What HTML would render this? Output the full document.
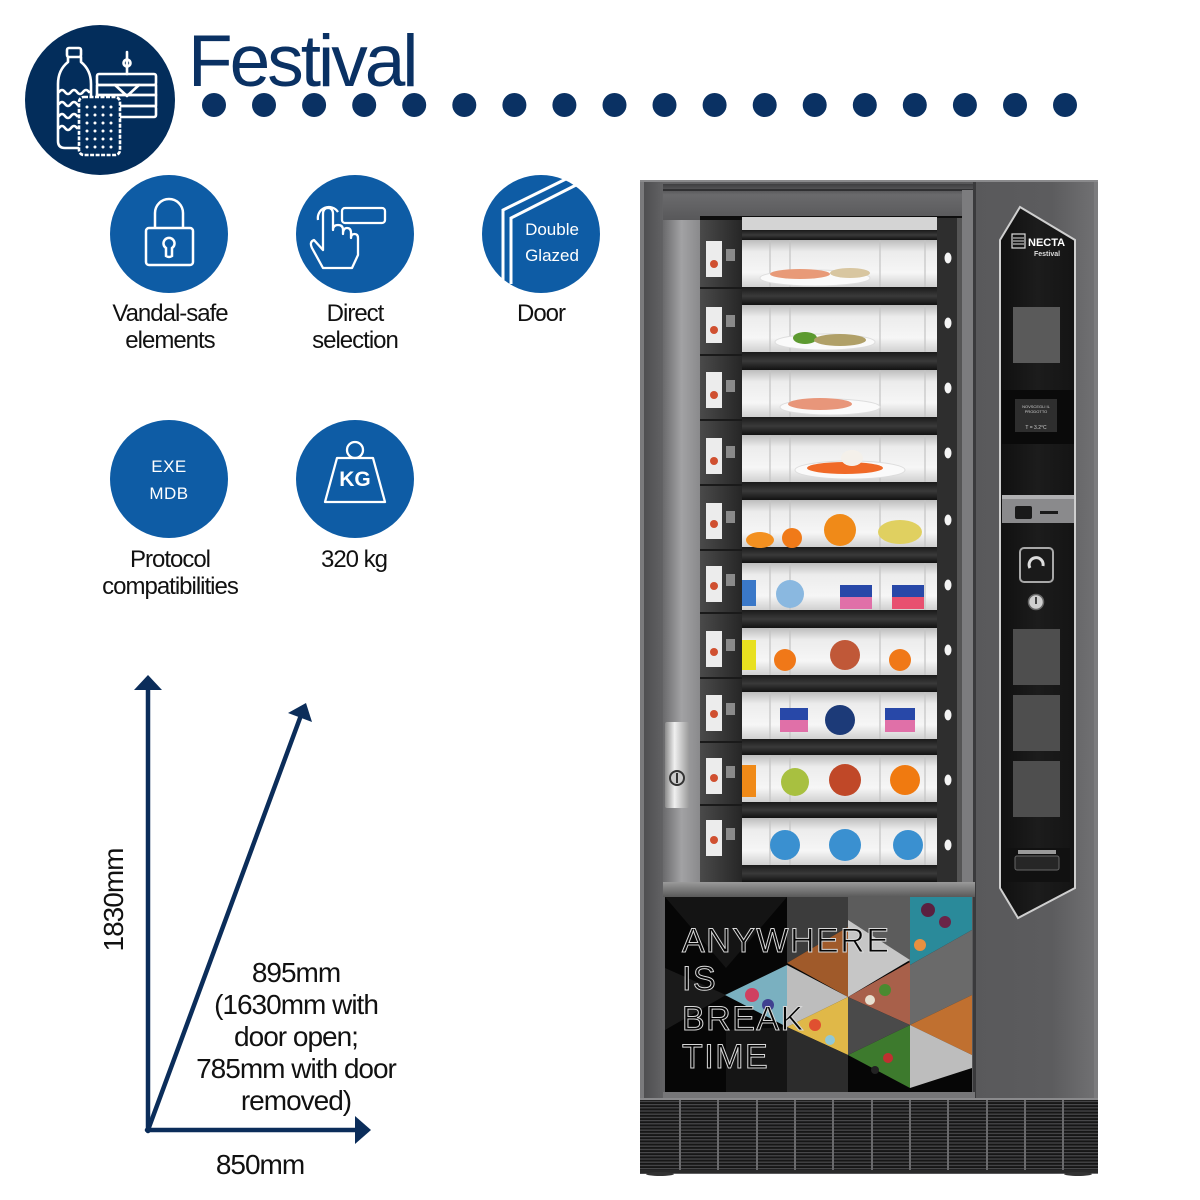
<!DOCTYPE html>
<html><head><meta charset="utf-8">
<style>
html,body{margin:0;padding:0;background:#fff;}
svg{display:block}
text{font-family:"Liberation Sans",Arial,sans-serif;}
</style></head><body>
<svg width="1200" height="1200" viewBox="0 0 1200 1200" xmlns="http://www.w3.org/2000/svg">
<defs>
  <linearGradient id="metal" x1="0" y1="0" x2="1" y2="0">
    <stop offset="0" stop-color="#4a4a4c"/><stop offset="0.05" stop-color="#626264"/>
    <stop offset="0.5" stop-color="#555557"/><stop offset="0.9" stop-color="#5c5c5e"/>
    <stop offset="1" stop-color="#727274"/>
  </linearGradient>
  <linearGradient id="topbar" x1="0" y1="0" x2="0" y2="1">
    <stop offset="0" stop-color="#3e3e40"/><stop offset="0.3" stop-color="#6a6a6c"/>
    <stop offset="1" stop-color="#58585a"/>
  </linearGradient>
  <linearGradient id="lstrip" x1="0" y1="0" x2="1" y2="0">
    <stop offset="0" stop-color="#6a6a6c"/><stop offset="0.5" stop-color="#a2a2a4"/>
    <stop offset="1" stop-color="#8a8a8c"/>
  </linearGradient>
  <linearGradient id="drawer" x1="0" y1="0" x2="0" y2="1">
    <stop offset="0" stop-color="#bdbdbd"/><stop offset="0.25" stop-color="#ececec"/>
    <stop offset="0.7" stop-color="#f6f6f6"/><stop offset="1" stop-color="#d0d0d0"/>
  </linearGradient>
  <linearGradient id="band" x1="0" y1="0" x2="0" y2="1">
    <stop offset="0" stop-color="#1a1a1a"/><stop offset="0.5" stop-color="#3a3a3a"/>
    <stop offset="1" stop-color="#121212"/>
  </linearGradient>
  <linearGradient id="silver" x1="0" y1="0" x2="1" y2="0">
    <stop offset="0" stop-color="#8a8a8a"/><stop offset="0.4" stop-color="#f0f0f0"/>
    <stop offset="1" stop-color="#9a9a9a"/>
  </linearGradient>
  <linearGradient id="strip" x1="0" y1="0" x2="1" y2="0">
    <stop offset="0" stop-color="#101010"/><stop offset="0.5" stop-color="#1c1c1c"/>
    <stop offset="1" stop-color="#141414"/>
  </linearGradient>
  <linearGradient id="plate" x1="0" y1="0" x2="0" y2="1">
    <stop offset="0" stop-color="#9a9a9a"/><stop offset="1" stop-color="#5a5a5a"/>
  </linearGradient>
  <linearGradient id="glass" x1="0" y1="0" x2="1" y2="0">
    <stop offset="0" stop-color="#4a4a4a"/><stop offset="1" stop-color="#262626"/>
  </linearGradient>
  <pattern id="grille" x="0" y="0" width="6" height="3.2" patternUnits="userSpaceOnUse">
    <rect width="6" height="3.2" fill="#161616"/>
    <rect y="0" width="6" height="1.2" fill="#4a4a4c"/>
  </pattern>
</defs>

<!-- ===== Header ===== -->
<circle cx="100" cy="100" r="75" fill="#032d5b"/>
<g fill="none" stroke="#fff" stroke-width="2.6" stroke-linejoin="round" stroke-linecap="round">
  <!-- bottle -->
  <rect x="67" y="48" width="14" height="9" rx="2"/>
  <path d="M68,57 L68,62 Q58,70 58,84 L58,141 Q58,148 65,148 L84,148 Q91,148 91,141 L91,84 Q91,70 81,62 L81,57"/>
  <path d="M59,92 q3,-4 6,0 t6,0 t6,0 t6,0 t6,0"/>
  <path d="M59,104 q3,-4 6,0 t6,0 t6,0 t6,0 t6,0"/>
  <path d="M59,116 q3,-4 6,0 t6,0 t6,0"/>
  <path d="M59,128 q3,-4 6,0 t6,0 t6,0"/>
  <!-- sandwich -->
  <line x1="127" y1="52" x2="127" y2="74"/>
  <circle cx="127" cy="63" r="3.5"/>
  <rect x="97" y="74" width="59" height="11" rx="2"/>
  <rect x="97" y="85" width="59" height="10"/>
  <rect x="97" y="95" width="59" height="11"/>
  <rect x="97" y="106" width="59" height="11" rx="2"/>
  <path d="M115,85 L127,96 L139,85"/>
</g>
<!-- cracker -->
<rect x="79" y="97" width="41" height="58" rx="5" fill="#032d5b" stroke="#fff" stroke-width="2.6" stroke-dasharray="4 1.5"/>
<g fill="#fff">
  <circle cx="87" cy="107" r="1.5"/><circle cx="95" cy="107" r="1.5"/><circle cx="103" cy="107" r="1.5"/><circle cx="111" cy="107" r="1.5"/>
  <circle cx="87" cy="115" r="1.5"/><circle cx="95" cy="115" r="1.5"/><circle cx="103" cy="115" r="1.5"/><circle cx="111" cy="115" r="1.5"/>
  <circle cx="87" cy="123" r="1.5"/><circle cx="95" cy="123" r="1.5"/><circle cx="103" cy="123" r="1.5"/><circle cx="111" cy="123" r="1.5"/>
  <circle cx="87" cy="131" r="1.5"/><circle cx="95" cy="131" r="1.5"/><circle cx="103" cy="131" r="1.5"/><circle cx="111" cy="131" r="1.5"/>
  <circle cx="87" cy="139" r="1.5"/><circle cx="95" cy="139" r="1.5"/><circle cx="103" cy="139" r="1.5"/><circle cx="111" cy="139" r="1.5"/>
  <circle cx="87" cy="147" r="1.5"/><circle cx="95" cy="147" r="1.5"/><circle cx="103" cy="147" r="1.5"/><circle cx="111" cy="147" r="1.5"/>
</g>

<text x="188" y="86" font-size="73" fill="#0a3163" letter-spacing="-3">Festival</text>

<g fill="#0a3163">
  <circle cx="214" cy="105" r="12"/><circle cx="264" cy="105" r="12"/><circle cx="314.1" cy="105" r="12"/>
  <circle cx="364.2" cy="105" r="12"/><circle cx="414.2" cy="105" r="12"/><circle cx="464.3" cy="105" r="12"/>
  <circle cx="514.4" cy="105" r="12"/><circle cx="564.4" cy="105" r="12"/><circle cx="614.5" cy="105" r="12"/>
  <circle cx="664.5" cy="105" r="12"/><circle cx="714.6" cy="105" r="12"/><circle cx="764.7" cy="105" r="12"/>
  <circle cx="814.7" cy="105" r="12"/><circle cx="864.8" cy="105" r="12"/><circle cx="914.8" cy="105" r="12"/>
  <circle cx="964.9" cy="105" r="12"/><circle cx="1015" cy="105" r="12"/><circle cx="1065" cy="105" r="12"/>
</g>

<!-- ===== Feature icons ===== -->
<circle cx="169" cy="234" r="59" fill="#0e5ca5"/>
<g fill="none" stroke="#fff" stroke-width="2.5">
  <path d="M155,228 V213 A14,14 0 0 1 183,213 V228"/>
  <rect x="146" y="228" width="47" height="37" rx="3"/>
  <path d="M166,248 A5.5,5.5 0 1 1 172,248 L172,256 Q169,258 166,256 Z"/>
</g>

<circle cx="355" cy="234" r="59" fill="#0e5ca5"/>
<g fill="none" stroke="#fff" stroke-width="2.3" stroke-linejoin="round">
  <rect x="342" y="208" width="43" height="15" rx="3"/>
  <path d="M318,220 A11,11 0 0 1 338,212"/>
  <path d="M323,268 L312,248 Q309,242 314,240 L323,250 L323,214 Q323,208 328,208 Q333,208 333,214 L333,230 Q333,225 338,225 Q343,225 343,230 L343,234 Q343,228 347,228 Q351,228 351,233 L351,238 Q351,234 354.5,234 Q358,234 358,238 L358,255 L352,268 Z"/>
</g>

<circle cx="541" cy="234" r="59" fill="#0e5ca5"/>
<g fill="none" stroke="#fff" stroke-width="3">
  <polyline points="503,280 503,210 572,176"/>
  <polyline points="511,284 511,218 580,183"/>
</g>
<text x="552" y="235" font-size="17" fill="#fff" text-anchor="middle">Double</text>
<text x="552" y="261" font-size="17" fill="#fff" text-anchor="middle">Glazed</text>

<g font-size="24" fill="#111" text-anchor="middle" letter-spacing="-1">
  <text x="170" y="321">Vandal-safe</text>
  <text x="170" y="348">elements</text>
  <text x="355" y="321">Direct</text>
  <text x="355" y="348">selection</text>
  <text x="541" y="321">Door</text>
  <text x="170" y="567">Protocol</text>
  <text x="170" y="594">compatibilities</text>
  <text x="354" y="567">320 kg</text>
</g>

<circle cx="169" cy="479" r="59" fill="#0e5ca5"/>
<text x="169" y="472" font-size="17" fill="#fff" text-anchor="middle" letter-spacing="0.5">EXE</text>
<text x="169" y="499" font-size="17" fill="#fff" text-anchor="middle" letter-spacing="0.5">MDB</text>

<circle cx="355" cy="479" r="59" fill="#0e5ca5"/>
<g fill="none" stroke="#fff" stroke-width="2.3" stroke-linejoin="round">
  <circle cx="355" cy="450" r="8"/>
  <path d="M337,458 L373,458 L385,502 L325,502 Z"/>
</g>
<text x="355" y="486" font-size="21" font-weight="bold" fill="#fff" text-anchor="middle">KG</text>

<!-- ===== Dimension arrows ===== -->
<g stroke="#0b2d5a" stroke-width="4.5" fill="none" stroke-linecap="round">
  <line x1="148" y1="1131" x2="148" y2="688"/>
  <line x1="147" y1="1130" x2="357" y2="1130"/>
  <line x1="148" y1="1130" x2="300" y2="718"/>
</g>
<g fill="#0b2d5a">
  <polygon points="148,675 134,690 162,690"/>
  <polygon points="371,1130 355,1116 355,1144"/>
  <polygon points="306,703 312,722 288,713"/>
</g>
<g font-size="28" fill="#111" text-anchor="middle" letter-spacing="-1">
  <text transform="translate(123,900) rotate(-90)">1830mm</text>
  <text x="296" y="982">895mm</text>
  <text x="296" y="1014">(1630mm with</text>
  <text x="296" y="1046">door open;</text>
  <text x="296" y="1078">785mm with door</text>
  <text x="296" y="1110">removed)</text>
  <text x="260" y="1174">850mm</text>
</g>

<!-- ===== Vending machine ===== -->
<rect x="640" y="180" width="458" height="994" fill="url(#metal)"/>
<rect x="640" y="180" width="458" height="2" fill="#8a8a8c"/>
<rect x="640" y="182" width="4" height="918" fill="#7a7a7c"/>
<rect x="1094" y="182" width="4" height="918" fill="#7c7c7e"/>

<!-- door top bar -->
<rect x="663" y="184" width="312" height="36" fill="url(#topbar)"/>
<rect x="663" y="189" width="312" height="2" fill="#303032"/>
<!-- door left strip -->
<rect x="663" y="220" width="37" height="664" fill="url(#lstrip)"/>
<!-- inner dark -->
<rect x="700" y="216" width="262" height="668" fill="#0e0e0e"/>
<!-- right door edge -->
<rect x="962" y="190" width="13" height="694" fill="#7c7c7e"/>
<rect x="973" y="182" width="3" height="918" fill="#3a3a3c"/>

<!-- top partial shelf -->
<rect x="742" y="217" width="195" height="13" fill="#d4d4d4"/>
<rect x="742" y="230" width="195" height="10" fill="url(#band)"/>

<!-- left glass column -->
<rect x="700" y="220" width="42" height="662" fill="url(#glass)"/>
<!-- right glass column -->
<rect x="937" y="218" width="25" height="664" fill="#2e2e2e"/>
<rect x="957" y="218" width="5" height="664" fill="#555"/>

<!-- drawers -->
<g id="drawers">
  <rect x="742" y="240" width="195" height="47" fill="url(#drawer)"/>
  <rect x="742" y="287" width="195" height="18" fill="url(#band)"/>
  <rect x="742" y="305" width="195" height="47" fill="url(#drawer)"/>
  <rect x="742" y="352" width="195" height="18" fill="url(#band)"/>
  <rect x="742" y="370" width="195" height="47" fill="url(#drawer)"/>
  <rect x="742" y="417" width="195" height="18" fill="url(#band)"/>
  <rect x="742" y="435" width="195" height="47" fill="url(#drawer)"/>
  <rect x="742" y="482" width="195" height="18" fill="url(#band)"/>
  <rect x="742" y="500" width="195" height="47" fill="url(#drawer)"/>
  <rect x="742" y="547" width="195" height="16" fill="url(#band)"/>
  <rect x="742" y="563" width="195" height="47" fill="url(#drawer)"/>
  <rect x="742" y="610" width="195" height="18" fill="url(#band)"/>
  <rect x="742" y="628" width="195" height="47" fill="url(#drawer)"/>
  <rect x="742" y="675" width="195" height="17" fill="url(#band)"/>
  <rect x="742" y="692" width="195" height="47" fill="url(#drawer)"/>
  <rect x="742" y="739" width="195" height="16" fill="url(#band)"/>
  <rect x="742" y="755" width="195" height="47" fill="url(#drawer)"/>
  <rect x="742" y="802" width="195" height="16" fill="url(#band)"/>
  <rect x="742" y="818" width="195" height="47" fill="url(#drawer)"/>
  <rect x="742" y="865" width="195" height="17" fill="url(#band)"/>
</g>
<!-- drawer dividers -->
<g stroke="#c4c4c4" stroke-width="1.5" opacity="0.8">
  <line x1="770" y1="240" x2="770" y2="882"/>
  <line x1="790" y1="240" x2="790" y2="882"/>
  <line x1="880" y1="240" x2="880" y2="882"/>
  <line x1="925" y1="240" x2="925" y2="882"/>
</g>
<g fill="url(#band)">
  <rect x="742" y="287" width="195" height="18"/><rect x="742" y="352" width="195" height="18"/>
  <rect x="742" y="417" width="195" height="18"/><rect x="742" y="482" width="195" height="18"/>
  <rect x="742" y="547" width="195" height="16"/><rect x="742" y="610" width="195" height="18"/>
  <rect x="742" y="675" width="195" height="17"/><rect x="742" y="739" width="195" height="16"/>
  <rect x="742" y="802" width="195" height="16"/><rect x="742" y="865" width="195" height="17"/>
</g>

<!-- food -->
<g>
  <ellipse cx="815" cy="278" rx="55" ry="8" fill="#fafafa" stroke="#ddd"/>
  <ellipse cx="800" cy="274" rx="30" ry="5" fill="#e89a78"/>
  <ellipse cx="850" cy="273" rx="20" ry="5" fill="#d8c6a0"/>
  <ellipse cx="825" cy="342" rx="50" ry="8" fill="#fafafa" stroke="#ddd"/>
  <ellipse cx="805" cy="338" rx="12" ry="6" fill="#5d9a30"/>
  <ellipse cx="840" cy="340" rx="26" ry="6" fill="#b0a068"/>
  <ellipse cx="830" cy="407" rx="50" ry="8" fill="#fafafa" stroke="#ddd"/>
  <ellipse cx="820" cy="404" rx="32" ry="6" fill="#e8967a"/>
  <ellipse cx="850" cy="470" rx="55" ry="9" fill="#fafafa" stroke="#ddd"/>
  <ellipse cx="845" cy="468" rx="38" ry="6" fill="#f06a28"/>
  <ellipse cx="852" cy="458" rx="11" ry="8" fill="#f4f0ea"/>
  <!-- shelf 5 oranges -->
  <ellipse cx="760" cy="540" rx="14" ry="8" fill="#f39020"/>
  <circle cx="792" cy="538" r="10" fill="#f07a18"/>
  <circle cx="840" cy="530" r="16" fill="#f08a18"/>
  <ellipse cx="900" cy="532" rx="22" ry="12" fill="#e0d060"/>
  <!-- shelf 6 yogurts -->
  <rect x="742" y="580" width="14" height="26" fill="#3a78c8"/>
  <ellipse cx="790" cy="594" rx="14" ry="14" fill="#8ab8e0"/>
  <rect x="840" y="585" width="32" height="12" fill="#2848a8"/>
  <rect x="840" y="597" width="32" height="12" fill="#e070a8"/>
  <rect x="892" y="585" width="32" height="12" fill="#2848a8"/>
  <rect x="892" y="597" width="32" height="12" fill="#e85070"/>
  <!-- shelf 7 fruit -->
  <rect x="742" y="640" width="14" height="30" fill="#e8e020"/>
  <circle cx="785" cy="660" r="11" fill="#f07818"/>
  <circle cx="845" cy="655" r="15" fill="#c05838"/>
  <circle cx="900" cy="660" r="11" fill="#f07818"/>
  <!-- shelf 8 yogurts -->
  <rect x="780" y="708" width="28" height="12" fill="#2848a8"/>
  <rect x="780" y="720" width="28" height="12" fill="#e070a8"/>
  <circle cx="840" cy="720" r="15" fill="#1c3a78"/>
  <rect x="885" y="708" width="30" height="12" fill="#2848a8"/>
  <rect x="885" y="720" width="30" height="12" fill="#e070a8"/>
  <!-- shelf 9 fruit -->
  <rect x="742" y="765" width="14" height="32" fill="#f08a18"/>
  <circle cx="795" cy="782" r="14" fill="#a8c040"/>
  <circle cx="845" cy="780" r="16" fill="#c04828"/>
  <circle cx="905" cy="780" r="15" fill="#f07a10"/>
  <!-- shelf 10 blue yogurts -->
  <circle cx="785" cy="845" r="15" fill="#3a90d0"/>
  <circle cx="845" cy="845" r="16" fill="#3a90d0"/>
  <circle cx="908" cy="845" r="15" fill="#3a90d0"/>
</g>

<!-- left labels -->
<g stroke="#1a1a1a" stroke-width="2">
  <line x1="700" y1="288" x2="742" y2="288"/><line x1="700" y1="355" x2="742" y2="355"/>
  <line x1="700" y1="420" x2="742" y2="420"/><line x1="700" y1="485" x2="742" y2="485"/>
  <line x1="700" y1="550" x2="742" y2="550"/><line x1="700" y1="613" x2="742" y2="613"/>
  <line x1="700" y1="678" x2="742" y2="678"/><line x1="700" y1="742" x2="742" y2="742"/>
  <line x1="700" y1="805" x2="742" y2="805"/>
</g>
<g fill="#ececec">
  <rect x="706" y="241" width="16" height="36"/><rect x="706" y="307" width="16" height="36"/>
  <rect x="706" y="372" width="16" height="36"/><rect x="706" y="438" width="16" height="36"/>
  <rect x="706" y="503" width="16" height="36"/><rect x="706" y="566" width="16" height="36"/>
  <rect x="706" y="631" width="16" height="36"/><rect x="706" y="695" width="16" height="36"/>
  <rect x="706" y="758" width="16" height="36"/><rect x="706" y="820" width="16" height="36"/>
</g>
<g fill="#8a8a8a">
  <rect x="726" y="249" width="9" height="12"/><rect x="726" y="315" width="9" height="12"/>
  <rect x="726" y="380" width="9" height="12"/><rect x="726" y="446" width="9" height="12"/>
  <rect x="726" y="511" width="9" height="12"/><rect x="726" y="574" width="9" height="12"/>
  <rect x="726" y="639" width="9" height="12"/><rect x="726" y="703" width="9" height="12"/>
  <rect x="726" y="766" width="9" height="12"/><rect x="726" y="828" width="9" height="12"/>
</g>
<g fill="#d05030">
  <circle cx="714" cy="264" r="4"/><circle cx="714" cy="330" r="4"/><circle cx="714" cy="395" r="4"/>
  <circle cx="714" cy="461" r="4"/><circle cx="714" cy="524" r="4"/><circle cx="714" cy="586" r="4"/>
  <circle cx="714" cy="652" r="4"/><circle cx="714" cy="714" r="4"/><circle cx="714" cy="778" r="4"/>
  <circle cx="714" cy="840" r="4"/>
</g>

<!-- right white dots -->
<g fill="#f4f4f4">
  <ellipse cx="948" cy="258" rx="3.5" ry="5.5"/><ellipse cx="948" cy="323" rx="3.5" ry="5.5"/>
  <ellipse cx="948" cy="388" rx="3.5" ry="5.5"/><ellipse cx="948" cy="453" rx="3.5" ry="5.5"/>
  <ellipse cx="948" cy="520" rx="3.5" ry="5.5"/><ellipse cx="948" cy="585" rx="3.5" ry="5.5"/>
  <ellipse cx="948" cy="650" rx="3.5" ry="5.5"/><ellipse cx="948" cy="715" rx="3.5" ry="5.5"/>
  <ellipse cx="948" cy="780" rx="3.5" ry="5.5"/><ellipse cx="948" cy="845" rx="3.5" ry="5.5"/>
</g>

<!-- door handle -->
<rect x="665" y="722" width="24" height="86" rx="2" fill="url(#silver)"/>
<circle cx="677" cy="778" r="7" fill="#ccc" stroke="#333" stroke-width="2"/>
<rect x="676" y="773" width="2" height="10" fill="#333"/>

<!-- bottom plate -->
<rect x="663" y="882" width="312" height="15" fill="url(#plate)"/>

<!-- bottom graphic panel -->
<rect x="665" y="897" width="307" height="195" fill="#060606"/>
<polygon points="665,897 787,897 726,968" fill="#141414"/>
<polygon points="665,968 726,995 665,1030" fill="#1a1a1a"/>
<polygon points="726,1030 787,1027 787,1092 726,1092" fill="#151515"/>
<polygon points="787,897 848,897 848,927 787,963" fill="#3c3c3c"/>
<polygon points="848,897 910,897 910,962 848,927" fill="#5c5c5c"/>
<polygon points="848,920 910,960 848,997" fill="#c6c6c6"/>
<polygon points="910,897 972,897 972,930 910,965" fill="#2a8a9a"/>
<circle cx="928" cy="910" r="7" fill="#5a2040"/><circle cx="945" cy="922" r="6" fill="#6a2448"/><circle cx="920" cy="945" r="6" fill="#e89040"/>
<polygon points="787,963 848,927 848,997" fill="#a05a2a"/>
<polygon points="787,965 848,997 787,1027" fill="#bdbdbd"/>
<polygon points="725,995 787,965 787,1027" fill="#7ab0c0"/>
<circle cx="752" cy="995" r="7" fill="#d04060"/><circle cx="768" cy="1005" r="6" fill="#404090"/>
<polygon points="787,1027 848,997 848,1055" fill="#e0b848"/>
<circle cx="815" cy="1025" r="6" fill="#e05030"/><circle cx="830" cy="1040" r="5" fill="#90c8d8"/>
<polygon points="848,997 910,962 910,1025" fill="#a8604a"/>
<circle cx="885" cy="990" r="6" fill="#4a8a30"/><circle cx="870" cy="1000" r="5" fill="#e8e0d0"/>
<polygon points="910,965 972,930 972,995 910,1025" fill="#6a6a6a"/>
<polygon points="910,1025 972,995 972,1055" fill="#c07030"/>
<polygon points="910,1025 972,1055 972,1068 910,1088" fill="#bdbdbd"/>
<polygon points="848,1055 910,1025 910,1088" fill="#3d7a2d"/>
<circle cx="888" cy="1058" r="5" fill="#c03030"/><circle cx="875" cy="1070" r="4" fill="#222"/>
<polygon points="848,997 910,1025 848,1055" fill="#4a4a4a"/>
<polygon points="787,1027 848,1055 848,1092 787,1092" fill="#2c2c2c"/>
<g font-size="34" fill="#050505" stroke="#d8d8d8" stroke-width="1" letter-spacing="1.5">
  <text x="682" y="952">ANYWHERE</text>
  <text x="682" y="990">IS</text>
  <text x="682" y="1030">BREAK</text>
  <text x="682" y="1068">TIME</text>
</g>
<rect x="663" y="1092" width="312" height="7" fill="#767678"/>

<!-- grille -->
<rect x="640" y="1098" width="458" height="74" fill="url(#grille)"/>
<rect x="640" y="1098" width="458" height="2" fill="#8a8a8c"/>
<g stroke="#6a6a6c" stroke-width="2">
  <line x1="680" y1="1100" x2="680" y2="1172"/><line x1="718" y1="1100" x2="718" y2="1172"/>
  <line x1="757" y1="1100" x2="757" y2="1172"/><line x1="795" y1="1100" x2="795" y2="1172"/>
  <line x1="833" y1="1100" x2="833" y2="1172"/><line x1="872" y1="1100" x2="872" y2="1172"/>
  <line x1="910" y1="1100" x2="910" y2="1172"/><line x1="948" y1="1100" x2="948" y2="1172"/>
  <line x1="987" y1="1100" x2="987" y2="1172"/><line x1="1025" y1="1100" x2="1025" y2="1172"/>
  <line x1="1063" y1="1100" x2="1063" y2="1172"/>
</g>
<rect x="640" y="1170" width="458" height="3" fill="#2a2a2a"/>
<ellipse cx="660" cy="1174" rx="14" ry="2" fill="#333"/>
<ellipse cx="1078" cy="1174" rx="14" ry="2" fill="#333"/>

<!-- right control strip -->
<polygon points="1020,207 1075,240 1075,888 1018,918 1000,888 1000,240" fill="url(#strip)" stroke="#cfcfcf" stroke-width="2"/>
<rect x="1012" y="234" width="13" height="14" fill="none" stroke="#ddd" stroke-width="1.2"/>
<g stroke="#ddd" stroke-width="1"><line x1="1013" y1="238" x2="1024" y2="238"/><line x1="1013" y1="241" x2="1024" y2="241"/><line x1="1013" y1="244" x2="1024" y2="244"/></g>
<text x="1028" y="246" font-size="11" font-weight="bold" fill="#fff">NECTA</text>
<text x="1034" y="256" font-size="7" font-weight="bold" fill="#ddd">Festival</text>
<rect x="1013" y="307" width="47" height="56" fill="#5a5a5a"/>
<rect x="1002" y="390" width="72" height="54" fill="#0a0a0a"/>
<rect x="1015" y="399" width="42" height="33" fill="#2e2e2e"/>
<text x="1036" y="408" font-size="4" fill="#ccc" text-anchor="middle">NOVSCEGLI IL</text>
<text x="1036" y="413" font-size="4" fill="#ccc" text-anchor="middle">PRODOTTO</text>
<text x="1036" y="429" font-size="5" fill="#ccc" text-anchor="middle">T = 3.2°C</text>
<rect x="1002" y="495" width="72" height="28" fill="#8a8a8c"/>
<rect x="1002" y="495" width="72" height="4" fill="#b0b0b2"/>
<rect x="1015" y="506" width="17" height="13" rx="2" fill="#1a1a1a"/>
<rect x="1040" y="511" width="18" height="3" fill="#1a1a1a"/>
<rect x="1020" y="548" width="33" height="34" rx="4" fill="#1a1a1a" stroke="#a8a8a8" stroke-width="2"/>
<path d="M1030,568 A7,7 0 1 1 1043,566" fill="none" stroke="#ddd" stroke-width="3"/>
<circle cx="1036" cy="602" r="7.5" fill="#cfcfcf" stroke="#666" stroke-width="1.5"/>
<rect x="1035" y="597" width="2" height="7" fill="#444"/>
<rect x="1013" y="629" width="47" height="56" fill="#4e4e4e"/>
<rect x="1013" y="695" width="47" height="56" fill="#4e4e4e"/>
<rect x="1013" y="761" width="47" height="56" fill="#4e4e4e"/>
<rect x="1005" y="848" width="65" height="34" fill="#111"/>
<rect x="1018" y="850" width="38" height="4" fill="#9a9a9a"/>
<rect x="1015" y="856" width="44" height="14" rx="2" fill="#262626" stroke="#666" stroke-width="1"/>
</svg>
</body></html>
